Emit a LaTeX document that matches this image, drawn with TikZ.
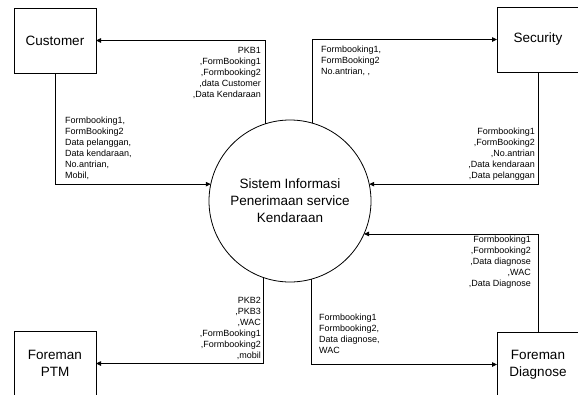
\documentclass[tikz,border=0pt]{standalone}
\usepackage{fontspec}
\setmainfont{Liberation Sans}
\usetikzlibrary{arrows.meta}
\begin{document}
\begin{tikzpicture}[x=1pt,y=-1pt,
  ent/.style={draw,line width=0.8pt,minimum width=82pt,minimum height=65pt,inner sep=0pt,outer sep=0pt,align=center,font=\fontsize{13.5}{16.5}\selectfont},
  proc/.style={draw,circle,line width=0.8pt,minimum size=162pt,inner sep=0pt,outer sep=0pt,align=center,font=\fontsize{13.5}{17}\selectfont},
  flow/.style={draw,line width=0.8pt,-{Triangle[length=5pt,width=4.5pt]}},
  lbl/.style={inner sep=0pt,font=\fontsize{9}{11}\selectfont},
  lblr/.style={lbl,align=right,anchor=north east},
  lbll/.style={lbl,align=left,anchor=north west}]
\useasboundingbox (0,0) rectangle (578,394);
\begin{scope}
\clip (0,0) rectangle (578,394);
\node[ent] (cust) at (55,40.5) {Customer};
\node[ent] (sec) at (538,39.5) {Security};
\node[ent] (ptm) at (55,363.5) {Foreman\\PTM};
\node[ent] (fd) at (538,364.5) {Foreman\\Diagnose};
\node[proc] (sys) at (290,201) {Sistem Informasi\\Penerimaan service\\Kendaraan};

\draw[flow] (sys.108.7) |- (cust.east);
\draw[flow] (cust.south) |- (sys.168.6);
\draw[flow] (sys.74.2) |- (sec.west);
\draw[flow] (sec.south) |- (sys.12.1);
\draw[flow] (sys.251.3) |- (ptm.east);
\draw[flow] (sys.285.8) |- (fd.west);
\draw[flow] (fd.north) |- (sys.336.7);

\node[lblr] (la) at (261,47.5) {PKB1\\,FormBooking1\\,Formbooking2\\,data Customer\\,Data Kendaraan};
\node[lbll] (lb) at (65,116.7) {Formbooking1,\\FormBooking2\\Data pelanggan,\\Data kendaraan,\\No.antrian,\\Mobil,};
\node[lbll] (lc) at (321,45.7) {Formbooking1,\\FormBooking2\\No.antrian, ,};
\node[lblr] (ld) at (535,128) {Formbooking1\\,FormBooking2\\,No.antrian\\,Data kendaraan\\,Data pelanggan};
\node[lblr] (le) at (261,296.7) {PKB2\\,PKB3\\,WAC\\,FormBooking1\\,Formbooking2\\,mobil};
\node[lbll] (lf) at (319,313.7) {Formbooking1\\Formbooking2,\\Data diagnose,\\WAC};
\node[lblr] (lg) at (531,236) {Formbooking1\\,Formbooking2\\,Data diagnose\\,WAC\\,Data Diagnose};
\end{scope}
\end{tikzpicture}
\end{document}
